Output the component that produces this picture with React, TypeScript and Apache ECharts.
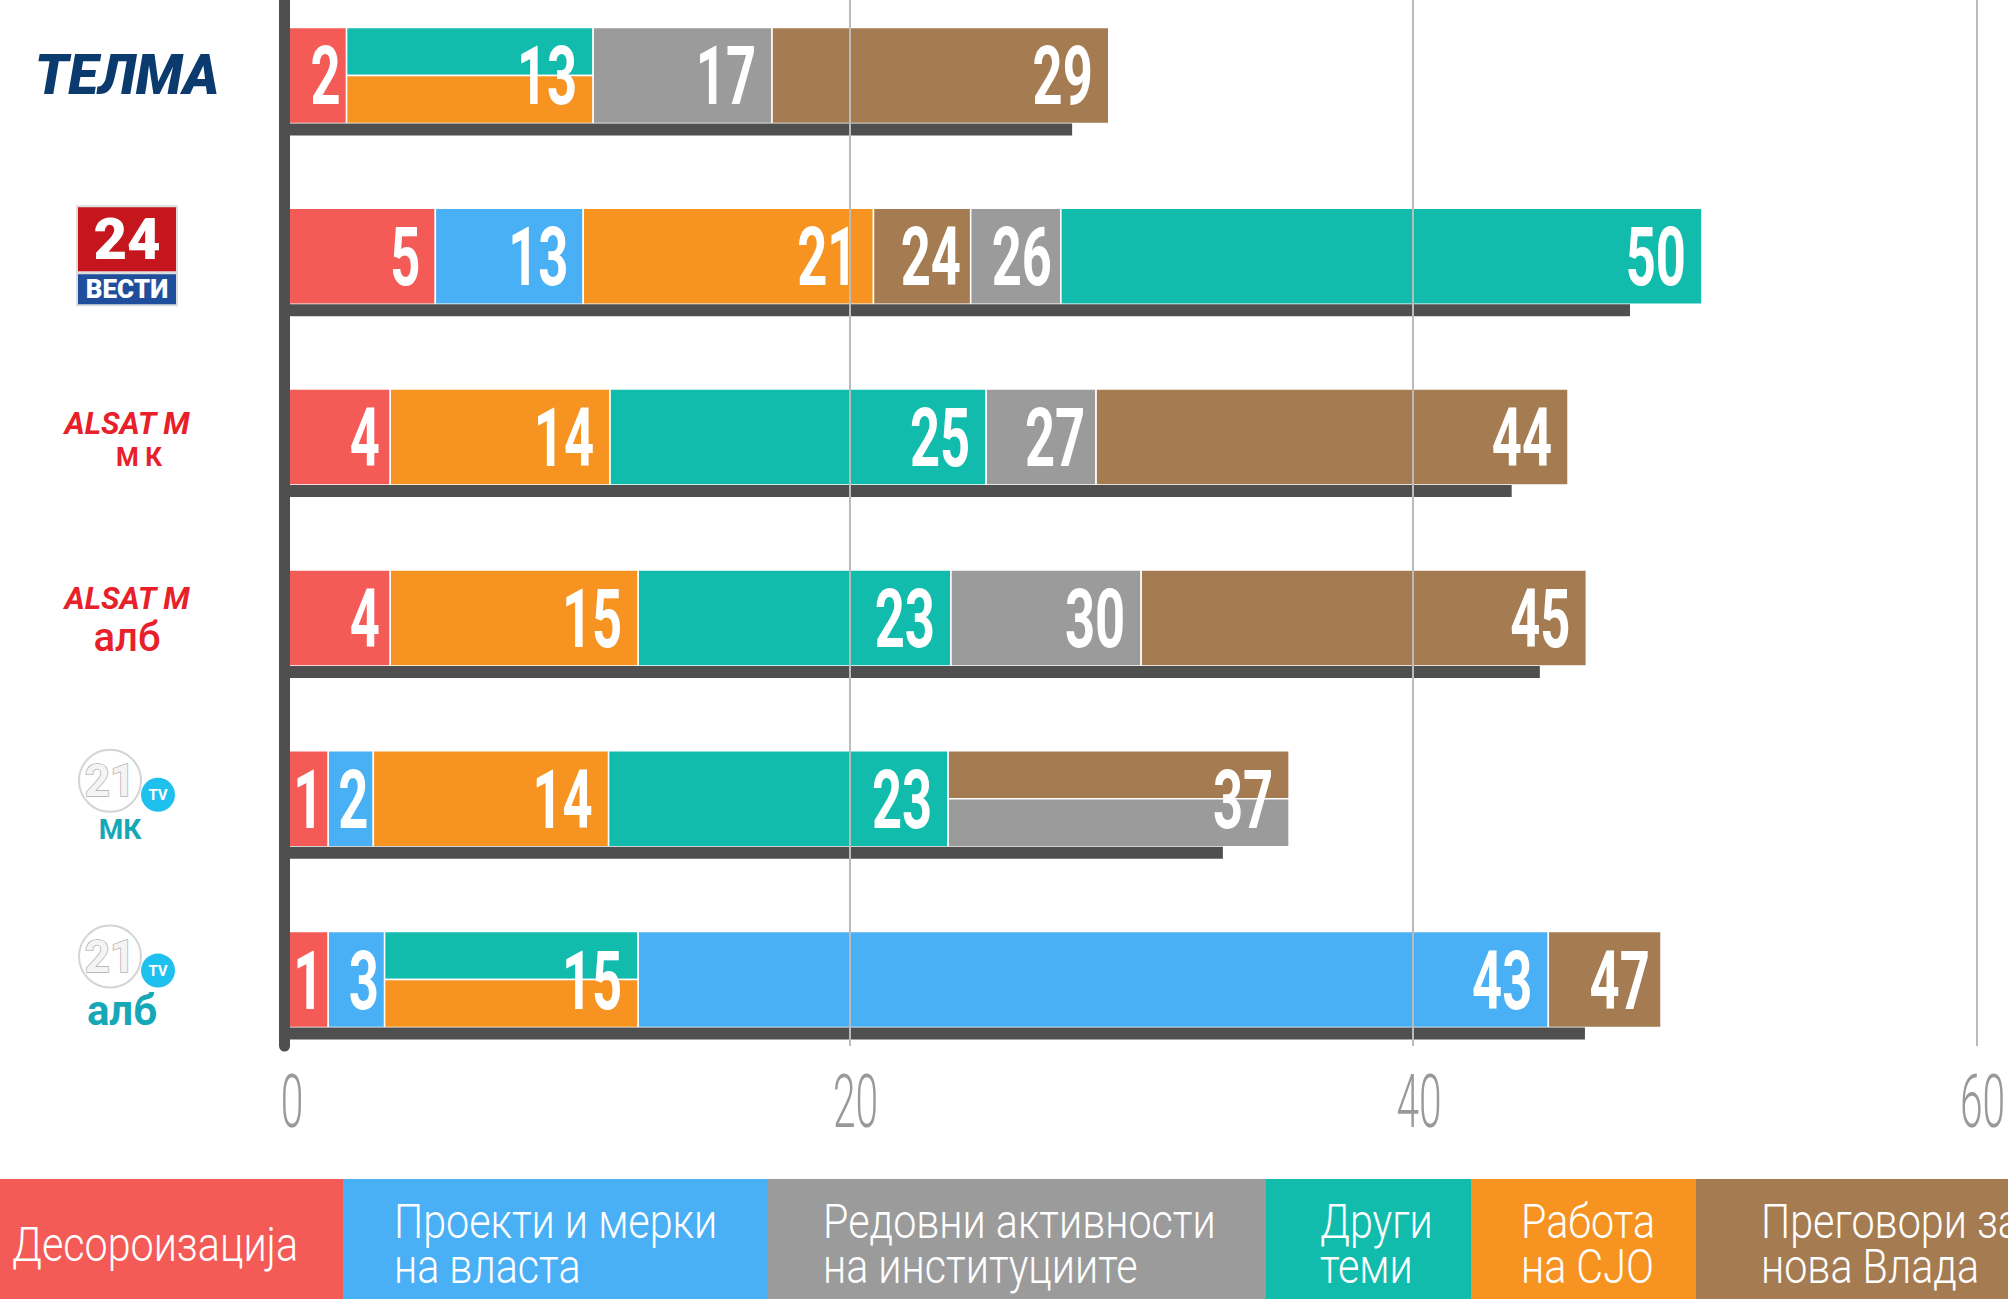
import React, { useEffect, useRef } from 'react';
import * as echarts from 'echarts';

// ---- data ----
const categories = [
  'Десороизација',
  'Проекти и мерки\nна власта',
  'Редовни активности\nна институциите',
  'Други\nтеми',
  'Работа\nна СЈО',
  'Преговори за\nнова Влада',
];
const catColors = ['#F45B56', '#4AB0F5', '#9B9B9B', '#12BCAD', '#F79421', '#A57C52'];
const stations = ['ТЕЛМА', '24 Вести', 'Алсат М МК', 'Алсат М алб', '21 МК', '21 алб'];

// category of each segment, in drawing order (left to right), per station
const segCategory = [
  [0, 3, 4, 2, 5],
  [0, 1, 4, 5, 2, 3],
  [0, 4, 3, 2, 5],
  [0, 4, 3, 2, 5],
  [0, 1, 4, 3, 5, 2],
  [0, 1, 3, 4, 1, 5],
];
// where each segment ends on the axis (as drawn)
const segEnd = [
  [2.15, 10.9, 10.9, 17.25, 29.2],
  [5.3, 10.55, 20.85, 24.3, 27.5, 50.25],
  [3.7, 11.5, 24.85, 28.75, 45.5],
  [3.7, 12.5, 23.6, 30.35, 46.15],
  [1.5, 3.1, 11.45, 23.5, 35.6, 35.6],
  [1.5, 3.5, 12.5, 12.5, 44.8, 48.8],
];
// printed labels of each segment
const segLabel = [
  [2, 13, 13, 17, 29],
  [5, 13, 21, 24, 26, 50],
  [4, 14, 25, 27, 44],
  [4, 15, 23, 30, 45],
  [1, 2, 14, 23, 37, 37],
  [1, 3, 15, 15, 43, 47],
];
// dark total bar under each row
const totals = [27.9, 47.7, 43.5, 44.5, 33.25, 46.1];
const xTicks = [0, 20, 40, 60];

// ---- layout / style ----
const legendStarts = [0, 343, 767, 1266, 1471, 1696];
const legendTextX = [12, 394, 823, 1320, 1521, 1761];
const BAR_H = 96;
const TOTAL_H = 12;

const stationRich: string[] = [
  '{telma|ТЕЛМА}',
  '{v24|24}\n{vesti|ВЕСТИ}',
  '{alsat|ALSAT M}\n{amk|М К}',
  '{alsat2|ALSAT M}\n{aalb|алб}',
  '{c21|21}{tv|TV}\n{tmk|МК}',
  '{c21|21}{tv|TV}\n{talb|алб}',
];

function buildSegments() {
  const out: any[] = [];
  segEnd.forEach((ends, r) => {
    ends.forEach((e, k) => {
      let start = 0;
      for (let j = 0; j < k; j++) if (ends[j] < e && ends[j] > start) start = ends[j];
      const tieNext = k + 1 < ends.length && ends[k + 1] === e;
      const tiePrev = k > 0 && ends[k - 1] === e;
      const part = tieNext ? 1 : tiePrev ? 2 : 0;
      out.push([start, e, r, segCategory[r][k], segLabel[r][k], part]);
    });
  });
  return out;
}

export default function App() {
  const ref = useRef<HTMLDivElement>(null);
  useEffect(() => {
    if (!ref.current) return;
    const chart = echarts.init(ref.current, undefined, { renderer: 'svg' });
    const FONT = 'Roboto';
    const option: any = {
      animation: false,
      backgroundColor: '#ffffff',
      grid: [
        { left: 286, right: 31.4, top: -15, height: 1085, containLabel: false, outerBoundsMode: 'none' },
        { left: 286, right: 31.4, top: 0, height: 1046, containLabel: false, outerBoundsMode: 'none' },
      ],
      xAxis: [
        { gridIndex: 0, type: 'value', min: 0, max: 60, show: false },
        {
          gridIndex: 1, type: 'value', min: 0, max: 60, interval: 20, z: 3,
          axisLine: { show: false }, axisTick: { show: false }, axisLabel: { show: false },
          splitLine: { show: true, lineStyle: { color: '#bbbbbb', width: 2 } },
        },
      ],
      yAxis: [
        {
          gridIndex: 0, type: 'category', inverse: true, data: stations,
          axisLine: { show: false }, axisTick: { show: false }, splitLine: { show: false },
          axisLabel: {
            margin: 159, align: 'center',
            formatter: (_v: string, i: number) => stationRich[i],
            rich: {
              telma: { fontFamily: FONT, fontSize: 55, fontWeight: 900, fontStyle: 'italic', color: '#0b3a6e', align: 'center' },
              v24: { fontFamily: FONT, fontSize: 58, fontWeight: 900, color: '#ffffff', backgroundColor: '#c4161c', width: 98, height: 64, lineHeight: 66, align: 'center', borderColor: '#dddddd', borderWidth: 2 },
              vesti: { fontFamily: FONT, fontSize: 26, fontWeight: 900, color: '#ffffff', backgroundColor: '#1f4e9c', width: 98, height: 30, lineHeight: 34, align: 'center', borderColor: '#dddddd', borderWidth: 2 },
              alsat: { fontFamily: FONT, fontSize: 31, fontWeight: 700, fontStyle: 'italic', color: '#e8202a', align: 'center', lineHeight: 40, padding: [16, 0, 0, 0] },
              alsat2: { fontFamily: FONT, fontSize: 31, fontWeight: 700, fontStyle: 'italic', color: '#e8202a', align: 'center', lineHeight: 40, padding: [12, 0, 0, 0] },
              amk: { fontFamily: FONT, fontSize: 26, fontWeight: 700, color: '#e8202a', align: 'center', lineHeight: 44, padding: [0, 0, 0, 24] },
              aalb: { fontFamily: FONT, fontSize: 40, fontWeight: 500, color: '#e8202a', align: 'center', lineHeight: 50 },
              c21: { fontFamily: FONT, fontSize: 44, fontWeight: 700, color: '#f4f4f4', textBorderColor: '#b0b0b0', textBorderWidth: 1.5, width: 62, height: 62, borderColor: '#d4d4d4', borderWidth: 2, borderRadius: 31, align: 'center', verticalAlign: 'middle' },
              tv: { fontFamily: FONT, fontSize: 15, fontWeight: 700, color: '#ffffff', backgroundColor: '#1ec0ee', width: 34, height: 34, borderRadius: 17, align: 'center', verticalAlign: 'bottom' },
              tmk: { fontFamily: FONT, fontSize: 28, fontWeight: 700, color: '#17a8b8', align: 'center', lineHeight: 36, padding: [0, 14, 0, 0] },
              talb: { fontFamily: FONT, fontSize: 42, fontWeight: 700, color: '#17a8b8', align: 'center', lineHeight: 46, padding: [0, 10, 0, 0] },
            },
          },
        },
        {
          gridIndex: 1, type: 'value', min: 0, max: 1, z: 4, offset: 1.5,
          axisLine: { show: true, onZero: false, lineStyle: { color: '#4f4f4f', width: 11 } },
          axisTick: { show: false }, axisLabel: { show: false }, splitLine: { show: false },
        },
      ],
      graphic: categories.map((c, i) => ({
        type: 'group',
        children: [
          {
            type: 'rect',
            shape: { x: legendStarts[i], y: 1179, width: (i + 1 < legendStarts.length ? legendStarts[i + 1] : 2008) - legendStarts[i], height: 120 },
            style: { fill: catColors[i] },
          },
          {
            type: 'text', x: legendTextX[i], y: 1244, scaleX: 0.86,
            style: { text: c, fill: '#ffffff', fontSize: 48, fontWeight: 300, fontFamily: FONT, lineHeight: 45, align: 'left', verticalAlign: 'middle' },
          },
        ],
      })),
      series: [
        {
          type: 'custom', name: 'segments', xAxisIndex: 0, yAxisIndex: 0, z: 2, clip: false,
          encode: { x: [0, 1], y: 2 },
          data: buildSegments(),
          renderItem: (_p: any, api: any) => {
            const start = api.value(0), end = api.value(1), row = api.value(2);
            const cat = api.value(3), lab = api.value(4), part = api.value(5);
            const p0 = api.coord([start, row]);
            const p1 = api.coord([end, row]);
            const cy = p0[1];
            const w = p1[0] - p0[0];
            let y0 = cy - BAR_H / 2;
            let h = BAR_H;
            if (part === 1) h = BAR_H / 2;
            else if (part === 2) { y0 = cy; h = BAR_H / 2; }
            const children: any[] = [
              { type: 'rect', shape: { x: p0[0], y: y0, width: w, height: h }, style: { fill: catColors[cat], stroke: '#ffffff', lineWidth: 1.5 } },
            ];
            if (part !== 2) {
              const pad = Math.min(16, Math.max(5, 0.1 * w));
              children.push({
                type: 'text', x: p1[0] - pad, y: cy + 1, scaleX: 0.64, z2: 10,
                style: { text: String(lab), fill: '#ffffff', fontSize: 82, fontWeight: 700, fontFamily: FONT, align: 'right', verticalAlign: 'middle' },
              });
            }
            return { type: 'group', children };
          },
        },
        {
          type: 'custom', name: 'totals', xAxisIndex: 0, yAxisIndex: 0, z: 2, clip: false,
          encode: { x: 0, y: 1 },
          data: totals.map((t, i) => [t, i]),
          renderItem: (_p: any, api: any) => {
            const p0 = api.coord([0, api.value(1)]);
            const p1 = api.coord([api.value(0), api.value(1)]);
            return { type: 'rect', shape: { x: p0[0], y: p0[1] + BAR_H / 2, width: p1[0] - p0[0], height: TOTAL_H }, style: { fill: '#4f4f4f' } };
          },
        },
        {
          type: 'custom', name: 'xlabels', xAxisIndex: 1, yAxisIndex: 1, z: 5, clip: false, silent: true,
          encode: { x: 0, y: 1 },
          data: xTicks.map((v) => [v, 0]),
          renderItem: (_p: any, api: any) => {
            const p = api.coord([api.value(0), 0]);
            return {
              type: 'text', x: p[0] + 6, y: p[1] + 56, scaleX: 0.55,
              style: { text: String(api.value(0)), fill: '#999999', fontSize: 74, fontWeight: 300, fontFamily: FONT, align: 'center', verticalAlign: 'middle' },
            };
          },
        },
      ],
    };
    chart.setOption(option);
    return () => chart.dispose();
  }, []);
  return <div ref={ref} style={{ position: 'fixed', left: 0, top: 0, width: 2008, height: 1299, background: '#fff' }} />;
}
